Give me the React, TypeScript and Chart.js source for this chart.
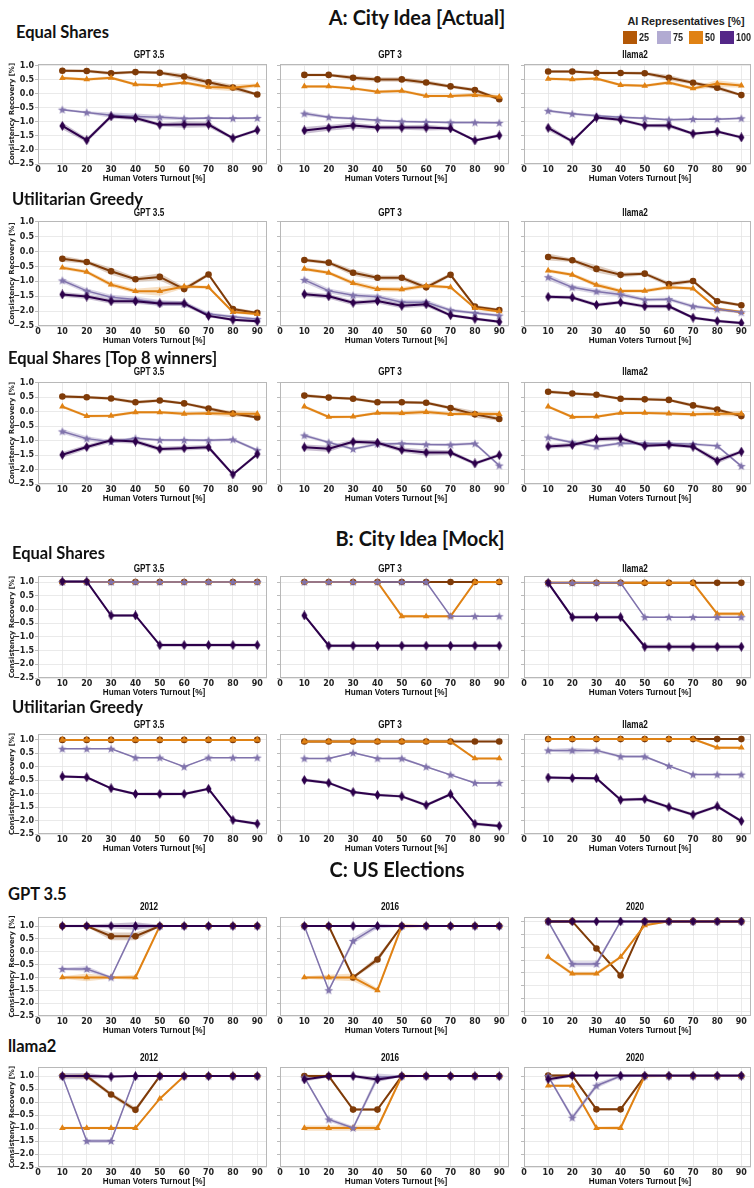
import React, { useEffect, useRef } from 'react';
import { Chart, registerables } from 'chart.js';

Chart.register(...registerables);

// ---------- shared axis data ----------
const TURNOUT = [10, 20, 30, 40, 50, 60, 70, 80, 90];
const X_TICKS = [0, 10, 20, 30, 40, 50, 60, 70, 80, 90];
const Y_TICKS = [-2.5, -2.0, -1.5, -1.0, -0.5, 0.0, 0.5, 1.0];
const SERIES = ['25', '50', '75', '100']; // AI representatives [%], drawing order
const LEGEND_ORDER = ['25', '75', '50', '100'];
const MODELS = ['GPT 3.5', 'GPT 3', 'llama2'];
const YEARS = ['2012', '2016', '2020'];
const X_TITLE = 'Human Voters Turnout [%]';
const Y_TITLE = 'Consistency Recovery [%]';
const LEGEND_TITLE = 'AI Representatives [%]';

// ---------- A: City Idea [Actual] — Equal Shares  (series: 25, 50, 75, 100) ----------
const actualEqualGpt35 = [
  [0.83, 0.82, 0.74, 0.78, 0.76, 0.62, 0.42, 0.23, -0.02],
  [0.57, 0.52, 0.58, 0.34, 0.31, 0.41, 0.25, 0.22, 0.31],
  [-0.56, -0.66, -0.76, -0.8, -0.83, -0.88, -0.86, -0.87, -0.86],
  [-1.14, -1.65, -0.8, -0.86, -1.1, -1.09, -1.09, -1.58, -1.29],
];
const actualEqualGpt35Sd = [
  [0.05, 0.05, 0.06, 0.05, 0.06, 0.1, 0.08, 0.1, 0.05],
  [0.05, 0.05, 0.05, 0.05, 0.05, 0.05, 0.08, 0.12, 0.06],
  [0.04, 0.04, 0.1, 0.1, 0.08, 0.06, 0.04, 0.04, 0.04],
  [0.12, 0.08, 0.08, 0.08, 0.06, 0.12, 0.1, 0.05, 0.06],
];
const actualEqualGpt3 = [
  [0.68, 0.68, 0.58, 0.52, 0.52, 0.41, 0.27, 0.14, -0.19],
  [0.27, 0.27, 0.2, 0.08, 0.11, -0.07, -0.07, -0.04, -0.1],
  [-0.7, -0.83, -0.88, -0.94, -0.98, -1.0, -1.02, -1.02, -1.03],
  [-1.3, -1.21, -1.13, -1.2, -1.2, -1.2, -1.23, -1.66, -1.48],
];
const actualEqualGpt3Sd = [
  [0.05, 0.05, 0.08, 0.08, 0.08, 0.08, 0.06, 0.06, 0.06],
  [0.05, 0.05, 0.05, 0.05, 0.06, 0.05, 0.05, 0.08, 0.06],
  [0.08, 0.05, 0.05, 0.04, 0.04, 0.04, 0.04, 0.04, 0.04],
  [0.12, 0.1, 0.1, 0.08, 0.08, 0.1, 0.06, 0.05, 0.06],
];
const actualEqualLlama2 = [
  [0.8, 0.8, 0.75, 0.75, 0.74, 0.58, 0.4, 0.22, -0.04],
  [0.54, 0.52, 0.55, 0.32, 0.29, 0.41, 0.2, 0.37, 0.3],
  [-0.6, -0.71, -0.78, -0.83, -0.87, -0.92, -0.9, -0.9, -0.87],
  [-1.21, -1.69, -0.84, -0.92, -1.13, -1.13, -1.42, -1.34, -1.55],
];
const actualEqualLlama2Sd = [
  [0.05, 0.05, 0.05, 0.05, 0.05, 0.1, 0.06, 0.08, 0.05],
  [0.05, 0.05, 0.05, 0.05, 0.05, 0.06, 0.06, 0.12, 0.08],
  [0.05, 0.05, 0.05, 0.04, 0.04, 0.04, 0.04, 0.04, 0.04],
  [0.1, 0.06, 0.05, 0.06, 0.06, 0.08, 0.05, 0.05, 0.06],
];

// ---------- A: Utilitarian Greedy ----------
const actualGreedyGpt35 = [
  [-0.24, -0.35, -0.66, -0.93, -0.85, -1.26, -0.77, -1.93, -2.06],
  [-0.54, -0.68, -1.11, -1.33, -1.33, -1.17, -1.2, -2.03, -2.1],
  [-0.97, -1.32, -1.53, -1.61, -1.73, -1.75, -2.1, -2.19, -2.27],
  [-1.44, -1.51, -1.67, -1.67, -1.74, -1.74, -2.16, -2.29, -2.34],
];
const actualGreedyGpt35Sd = [
  [0.1, 0.06, 0.12, 0.08, 0.12, 0.08, 0.06, 0.06, 0.05],
  [0.06, 0.06, 0.08, 0.08, 0.15, 0.06, 0.05, 0.05, 0.05],
  [0.08, 0.08, 0.08, 0.1, 0.1, 0.08, 0.06, 0.05, 0.05],
  [0.08, 0.08, 0.08, 0.08, 0.08, 0.08, 0.05, 0.05, 0.05],
];
const actualGreedyGpt3 = [
  [-0.28, -0.37, -0.71, -0.88, -0.88, -1.2, -0.78, -1.85, -1.96],
  [-0.58, -0.71, -1.06, -1.26, -1.27, -1.15, -1.2, -1.9, -2.01],
  [-0.95, -1.32, -1.47, -1.52, -1.7, -1.7, -1.97, -2.06, -2.15],
  [-1.43, -1.5, -1.72, -1.66, -1.82, -1.77, -2.14, -2.26, -2.36],
];
const actualGreedyGpt3Sd = [
  [0.06, 0.06, 0.1, 0.08, 0.08, 0.08, 0.06, 0.06, 0.05],
  [0.06, 0.06, 0.08, 0.08, 0.08, 0.06, 0.05, 0.05, 0.05],
  [0.1, 0.08, 0.08, 0.08, 0.08, 0.08, 0.06, 0.05, 0.05],
  [0.08, 0.08, 0.08, 0.08, 0.08, 0.08, 0.05, 0.05, 0.05],
];
const actualGreedyLlama2 = [
  [-0.18, -0.29, -0.58, -0.78, -0.74, -1.09, -0.99, -1.67, -1.8],
  [-0.64, -0.78, -1.12, -1.32, -1.32, -1.2, -1.24, -1.92, -2.03],
  [-0.86, -1.2, -1.34, -1.44, -1.62, -1.6, -1.84, -1.94, -2.04],
  [-1.52, -1.54, -1.79, -1.7, -1.84, -1.84, -2.22, -2.33, -2.4],
];
const actualGreedyLlama2Sd = [
  [0.12, 0.06, 0.12, 0.08, 0.06, 0.08, 0.06, 0.06, 0.05],
  [0.06, 0.06, 0.08, 0.06, 0.06, 0.06, 0.05, 0.05, 0.05],
  [0.1, 0.08, 0.08, 0.08, 0.06, 0.06, 0.06, 0.05, 0.05],
  [0.06, 0.06, 0.06, 0.06, 0.06, 0.06, 0.05, 0.05, 0.05],
];

// ---------- A: Equal Shares [Top 8 winners] ----------
const actualTop8Gpt35 = [
  [0.53, 0.5, 0.46, 0.33, 0.39, 0.29, 0.11, -0.06, -0.2],
  [0.18, -0.15, -0.14, -0.02, -0.02, -0.07, -0.05, -0.07, -0.07],
  [-0.68, -0.93, -1.04, -0.92, -0.98, -0.98, -0.99, -0.96, -1.33],
  [-1.49, -1.22, -0.99, -1.03, -1.29, -1.26, -1.23, -2.17, -1.47],
];
const actualTop8Gpt35Sd = [
  [0.06, 0.05, 0.05, 0.06, 0.05, 0.05, 0.06, 0.06, 0.05],
  [0.05, 0.05, 0.05, 0.05, 0.05, 0.06, 0.06, 0.12, 0.08],
  [0.08, 0.08, 0.06, 0.05, 0.05, 0.05, 0.05, 0.05, 0.05],
  [0.1, 0.08, 0.08, 0.08, 0.08, 0.08, 0.08, 0.05, 0.06],
];
const actualTop8Gpt3 = [
  [0.56, 0.49, 0.45, 0.33, 0.33, 0.31, 0.13, -0.09, -0.25],
  [0.18, -0.18, -0.17, -0.04, -0.05, -0.01, -0.08, -0.07, -0.08],
  [-0.82, -1.06, -1.29, -1.12, -1.1, -1.13, -1.14, -1.1, -1.86],
  [-1.23, -1.28, -1.04, -1.07, -1.32, -1.41, -1.41, -1.79, -1.5],
];
const actualTop8Gpt3Sd = [
  [0.06, 0.05, 0.05, 0.05, 0.05, 0.05, 0.06, 0.12, 0.06],
  [0.05, 0.05, 0.05, 0.05, 0.08, 0.08, 0.06, 0.08, 0.08],
  [0.06, 0.05, 0.05, 0.05, 0.05, 0.05, 0.05, 0.05, 0.05],
  [0.1, 0.1, 0.08, 0.08, 0.08, 0.1, 0.08, 0.06, 0.06],
];
const actualTop8Llama2 = [
  [0.69, 0.63, 0.59, 0.45, 0.43, 0.41, 0.22, 0.08, -0.15],
  [0.18, -0.18, -0.17, -0.04, -0.04, -0.06, -0.09, -0.07, -0.07],
  [-0.89, -1.06, -1.2, -1.09, -1.1, -1.1, -1.12, -1.18, -1.88],
  [-1.2, -1.15, -0.95, -0.92, -1.18, -1.14, -1.21, -1.7, -1.38],
];
const actualTop8Llama2Sd = [
  [0.06, 0.05, 0.05, 0.05, 0.05, 0.05, 0.06, 0.06, 0.05],
  [0.05, 0.05, 0.05, 0.05, 0.05, 0.05, 0.06, 0.08, 0.1],
  [0.05, 0.05, 0.05, 0.05, 0.05, 0.05, 0.05, 0.05, 0.05],
  [0.08, 0.08, 0.08, 0.08, 0.06, 0.06, 0.06, 0.1, 0.06],
];

// ---------- B: City Idea [Mock] — Equal Shares ----------
const mockEqualGpt35 = [
  [1, 1, 1, 1, 1, 1, 1, 1, 1],
  [1, 1, 1, 1, 1, 1, 1, 1, 1],
  [1, 1, 1, 1, 1, 1, 1, 1, 1],
  [1.02, 1.02, -0.22, -0.22, -1.3, -1.3, -1.3, -1.3, -1.3],
];
const mockEqualGpt35Sd = [
  [0.03, 0.03, 0.03, 0.03, 0.03, 0.03, 0.03, 0.03, 0.03],
  [0.03, 0.03, 0.03, 0.03, 0.03, 0.03, 0.03, 0.03, 0.03],
  [0.02, 0.02, 0.02, 0.02, 0.02, 0.02, 0.02, 0.02, 0.02],
  [0.05, 0.05, 0.05, 0.05, 0.06, 0.06, 0.06, 0.06, 0.06],
];
const mockEqualGpt3 = [
  [1, 1, 1, 1, 1, 1, 1, 1, 1],
  [1, 1, 1, 1, -0.25, -0.25, -0.25, 1, 1],
  [1, 1, 1, 1, 1, 1, -0.25, -0.25, -0.25],
  [-0.22, -1.32, -1.32, -1.32, -1.32, -1.32, -1.32, -1.32, -1.32],
];
const mockEqualGpt3Sd = [
  [0.03, 0.03, 0.03, 0.03, 0.03, 0.03, 0.03, 0.03, 0.03],
  [0.03, 0.03, 0.03, 0.03, 0.06, 0.05, 0.05, 0.04, 0.04],
  [0.02, 0.02, 0.02, 0.02, 0.02, 0.02, 0.02, 0.02, 0.02],
  [0.05, 0.06, 0.06, 0.06, 0.06, 0.06, 0.06, 0.06, 0.06],
];
const mockEqualLlama2 = [
  [0.97, 0.97, 0.97, 0.97, 0.97, 0.97, 0.97, 0.97, 0.97],
  [0.97, 0.97, 0.97, 0.97, 0.97, 0.97, 0.97, -0.16, -0.16],
  [0.97, 0.97, 0.97, 0.97, -0.28, -0.28, -0.28, -0.28, -0.28],
  [0.97, -0.28, -0.28, -0.28, -1.36, -1.36, -1.36, -1.36, -1.36],
];
const mockEqualLlama2Sd = [
  [0.03, 0.03, 0.03, 0.03, 0.03, 0.03, 0.03, 0.03, 0.03],
  [0.03, 0.03, 0.03, 0.03, 0.03, 0.03, 0.03, 0.07, 0.07],
  [0.02, 0.02, 0.02, 0.02, 0.02, 0.02, 0.02, 0.02, 0.02],
  [0.05, 0.06, 0.06, 0.06, 0.07, 0.07, 0.07, 0.07, 0.07],
];

// ---------- B: Utilitarian Greedy ----------
const mockGreedyGpt35 = [
  [1, 1, 1, 1, 1, 1, 1, 1, 1],
  [1, 1, 1, 1, 1, 1, 1, 1, 1],
  [0.67, 0.67, 0.67, 0.34, 0.34, 0.0, 0.34, 0.34, 0.34],
  [-0.36, -0.39, -0.8, -1.01, -1.01, -1.01, -0.82, -1.98, -2.12],
];
const mockGreedyGpt35Sd = [
  [0.03, 0.03, 0.03, 0.03, 0.03, 0.03, 0.03, 0.03, 0.03],
  [0.03, 0.03, 0.03, 0.03, 0.03, 0.03, 0.03, 0.03, 0.03],
  [0.02, 0.02, 0.02, 0.02, 0.02, 0.02, 0.02, 0.02, 0.02],
  [0.05, 0.05, 0.04, 0.05, 0.06, 0.05, 0.05, 0.05, 0.06],
];
const mockGreedyGpt3 = [
  [0.94, 0.94, 0.94, 0.94, 0.94, 0.94, 0.94, 0.94, 0.94],
  [0.94, 0.94, 0.94, 0.94, 0.94, 0.94, 0.94, 0.31, 0.31],
  [0.31, 0.31, 0.52, 0.31, 0.31, 0.0, -0.3, -0.6, -0.6],
  [-0.49, -0.6, -0.94, -1.05, -1.1, -1.43, -1.02, -2.12, -2.2],
];
const mockGreedyGpt3Sd = [
  [0.03, 0.03, 0.03, 0.03, 0.03, 0.03, 0.03, 0.03, 0.03],
  [0.03, 0.03, 0.03, 0.03, 0.03, 0.03, 0.06, 0.03, 0.03],
  [0.03, 0.03, 0.03, 0.03, 0.05, 0.03, 0.03, 0.03, 0.03],
  [0.06, 0.05, 0.05, 0.05, 0.05, 0.06, 0.05, 0.06, 0.06],
];
const mockGreedyLlama2 = [
  [1.03, 1.03, 1.03, 1.03, 1.03, 1.03, 1.03, 1.03, 1.03],
  [1.03, 1.03, 1.03, 1.03, 1.03, 1.03, 1.03, 0.71, 0.71],
  [0.61, 0.61, 0.61, 0.38, 0.38, 0.03, -0.29, -0.29, -0.29],
  [-0.4, -0.42, -0.43, -1.23, -1.2, -1.5, -1.78, -1.47, -2.02],
];
const mockGreedyLlama2Sd = [
  [0.03, 0.03, 0.03, 0.03, 0.03, 0.03, 0.03, 0.03, 0.03],
  [0.03, 0.03, 0.03, 0.03, 0.03, 0.03, 0.03, 0.05, 0.04],
  [0.05, 0.1, 0.05, 0.05, 0.05, 0.03, 0.03, 0.03, 0.03],
  [0.05, 0.05, 0.05, 0.06, 0.06, 0.06, 0.06, 0.06, 0.06],
];

// ---------- C: US Elections — GPT 3.5 ----------
const usGpt35Y2012 = [
  [1, 1, 0.6, 0.6, 1, 1, 1, 1, 1],
  [-1, -1, -1, -1, 1, 1, 1, 1, 1],
  [-0.67, -0.67, -1, 1, 1, 1, 1, 1, 1],
  [1, 1, 1, 1, 1, 1, 1, 1, 1],
];
const usGpt35Y2012Sd = [
  [0.03, 0.03, 0.15, 0.15, 0.03, 0.03, 0.03, 0.03, 0.03],
  [0.05, 0.15, 0.05, 0.1, 0.03, 0.03, 0.03, 0.03, 0.03],
  [0.05, 0.1, 0.05, 0.1, 0.03, 0.03, 0.03, 0.03, 0.03],
  [0.05, 0.05, 0.1, 0.15, 0.05, 0.03, 0.03, 0.03, 0.03],
];
const usGpt35Y2016 = [
  [1, 1, -1, -0.3, 1, 1, 1, 1, 1],
  [-1, -1, -1, -1.5, 1, 1, 1, 1, 1],
  [1, -1.5, 0.42, 1, 1, 1, 1, 1, 1],
  [1, 1, 1, 1, 1, 1, 1, 1, 1],
];
const usGpt35Y2016Sd = [
  [0.03, 0.03, 0.05, 0.12, 0.03, 0.03, 0.03, 0.03, 0.03],
  [0.05, 0.1, 0.15, 0.08, 0.1, 0.03, 0.03, 0.03, 0.03],
  [0.03, 0.05, 0.12, 0.1, 0.03, 0.03, 0.03, 0.03, 0.03],
  [0.03, 0.03, 0.03, 0.03, 0.03, 0.03, 0.03, 0.03, 0.03],
];
const usGpt35Y2020 = [
  [1, 1, -0.05, -1.1, 1, 1, 1, 1, 1],
  [-0.38, -1.03, -1.03, -0.38, 0.85, 1, 1, 1, 1],
  [1, -0.65, -0.65, 1, 1, 1, 1, 1, 1],
  [1, 1, 1, 1, 1, 1, 1, 1, 1],
];
const usGpt35Y2020Sd = [
  [0.05, 0.05, 0.05, 0.06, 0.03, 0.03, 0.03, 0.03, 0.03],
  [0.05, 0.08, 0.08, 0.05, 0.05, 0.03, 0.03, 0.03, 0.03],
  [0.05, 0.1, 0.1, 0.05, 0.03, 0.03, 0.03, 0.03, 0.03],
  [0.05, 0.05, 0.03, 0.03, 0.03, 0.03, 0.03, 0.03, 0.03],
];

// ---------- C: US Elections — llama2 ----------
const usLlama2Y2012 = [
  [1, 1, 0.29, -0.3, 1, 1, 1, 1, 1],
  [-1, -1, -1, -1, 0.13, 1, 1, 1, 1],
  [1, -1.5, -1.5, 1, 1, 1, 1, 1, 1],
  [1, 1, 0.98, 1, 1, 1, 1, 1, 1],
];
const usLlama2Y2012Sd = [
  [0.05, 0.08, 0.08, 0.1, 0.03, 0.03, 0.03, 0.03, 0.03],
  [0.05, 0.05, 0.05, 0.05, 0.03, 0.03, 0.03, 0.03, 0.03],
  [0.05, 0.08, 0.08, 0.05, 0.03, 0.03, 0.03, 0.03, 0.03],
  [0.12, 0.12, 0.03, 0.03, 0.03, 0.03, 0.03, 0.03, 0.03],
];
const usLlama2Y2016 = [
  [1, 1, -0.29, -0.29, 1, 1, 1, 1, 1],
  [-1, -1, -1, -1, 1, 1, 1, 1, 1],
  [0.95, -0.67, -1, 0.95, 1, 1, 1, 1, 1],
  [0.87, 1, 1, 0.87, 1, 1, 1, 1, 1],
];
const usLlama2Y2016Sd = [
  [0.05, 0.05, 0.05, 0.05, 0.03, 0.03, 0.03, 0.03, 0.03],
  [0.1, 0.1, 0.1, 0.1, 0.06, 0.03, 0.03, 0.03, 0.03],
  [0.05, 0.08, 0.08, 0.15, 0.03, 0.03, 0.03, 0.03, 0.03],
  [0.08, 0.05, 0.05, 0.1, 0.03, 0.03, 0.03, 0.03, 0.03],
];
const usLlama2Y2020 = [
  [1.02, 1.02, -0.28, -0.28, 1, 1, 1, 1, 1],
  [0.63, 0.63, -1, -1, 1, 1, 1, 1, 1],
  [1, -0.6, 0.63, 1, 1, 1, 1, 1, 1],
  [0.88, 1.02, 1.02, 1.02, 1.02, 1.02, 1.02, 1.02, 1.02],
];
const usLlama2Y2020Sd = [
  [0.05, 0.05, 0.05, 0.05, 0.03, 0.03, 0.03, 0.03, 0.03],
  [0.05, 0.05, 0.05, 0.08, 0.06, 0.03, 0.03, 0.03, 0.03],
  [0.05, 0.1, 0.1, 0.05, 0.03, 0.03, 0.03, 0.03, 0.03],
  [0.1, 0.05, 0.03, 0.03, 0.03, 0.03, 0.03, 0.03, 0.03],
];

// ---------- styles ----------
const LINE_COLORS = ['#7f3b08', '#e08214', '#8073ac', '#2d004b'];
const BAND_COLORS = ['rgba(127,59,8,0.25)', 'rgba(224,130,20,0.25)', 'rgba(128,115,172,0.3)', 'rgba(45,0,75,0.25)'];
const LEGEND_COLORS: Record<string, string> = { '25': '#b35806', '75': '#b2abd2', '50': '#e08214', '100': '#542788' };
const LINE_WIDTHS = [2, 2, 1.5, 2];
const POINT_RADII = [3.3, 3.8, 4, 4];
const GRID = '#e4e4e4';
const FRAME = '#b8b8b8';
const DEJAVU = '"DejaVu Sans", sans-serif';
const ARIAL = '"Liberation Sans", Arial, sans-serif';
const HEAD = 'Lato, "Open Sans", sans-serif';
const X_MAX = 94;

const COLS = [
  { left: 38, right: 269, titleX: 149 },
  { left: 280, right: 511, titleX: 390 },
  { left: 524, right: 755, titleX: 635 },
];

type PanelSpec = { title: string; values: number[][]; sd: number[][]; yMin?: number; yMax?: number };
type RowSpec = { top: number; bottom: number; yMin: number; yMax: number; titleY: number; panels: PanelSpec[] };

const ROWS: RowSpec[] = [
  { top: 64, bottom: 164, yMin: -2.5, yMax: 1.07, titleY: 55, panels: [
    { title: MODELS[0], values: actualEqualGpt35, sd: actualEqualGpt35Sd },
    { title: MODELS[1], values: actualEqualGpt3, sd: actualEqualGpt3Sd },
    { title: MODELS[2], values: actualEqualLlama2, sd: actualEqualLlama2Sd },
  ] },
  { top: 221, bottom: 326, yMin: -2.5, yMax: 1.03, titleY: 213, panels: [
    { title: MODELS[0], values: actualGreedyGpt35, sd: actualGreedyGpt35Sd },
    { title: MODELS[1], values: actualGreedyGpt3, sd: actualGreedyGpt3Sd },
    { title: MODELS[2], values: actualGreedyLlama2, sd: actualGreedyLlama2Sd },
  ] },
  { top: 382, bottom: 484, yMin: -2.5, yMax: 1.03, titleY: 372, panels: [
    { title: MODELS[0], values: actualTop8Gpt35, sd: actualTop8Gpt35Sd },
    { title: MODELS[1], values: actualTop8Gpt3, sd: actualTop8Gpt3Sd },
    { title: MODELS[2], values: actualTop8Llama2, sd: actualTop8Llama2Sd },
  ] },
  { top: 576, bottom: 678, yMin: -2.5, yMax: 1.22, titleY: 569, panels: [
    { title: MODELS[0], values: mockEqualGpt35, sd: mockEqualGpt35Sd },
    { title: MODELS[1], values: mockEqualGpt3, sd: mockEqualGpt3Sd },
    { title: MODELS[2], values: mockEqualLlama2, sd: mockEqualLlama2Sd },
  ] },
  { top: 734, bottom: 834, yMin: -2.5, yMax: 1.22, titleY: 725, panels: [
    { title: MODELS[0], values: mockGreedyGpt35, sd: mockGreedyGpt35Sd },
    { title: MODELS[1], values: mockGreedyGpt3, sd: mockGreedyGpt3Sd },
    { title: MODELS[2], values: mockGreedyLlama2, sd: mockGreedyLlama2Sd },
  ] },
  { top: 917, bottom: 1016, yMin: -2.5, yMax: 1.35, titleY: 907, panels: [
    { title: YEARS[0], values: usGpt35Y2012, sd: usGpt35Y2012Sd },
    { title: YEARS[1], values: usGpt35Y2016, sd: usGpt35Y2016Sd },
    { title: YEARS[2], values: usGpt35Y2020, sd: usGpt35Y2020Sd, yMin: -2.67, yMax: 1.17 },
  ] },
  { top: 1067, bottom: 1167, yMin: -2.5, yMax: 1.35, titleY: 1058, panels: [
    { title: YEARS[0], values: usLlama2Y2012, sd: usLlama2Y2012Sd },
    { title: YEARS[1], values: usLlama2Y2016, sd: usLlama2Y2016Sd },
    { title: YEARS[2], values: usLlama2Y2020, sd: usLlama2Y2020Sd },
  ] },
];

const SECTION_TITLES = [
  { text: 'A: City Idea [Actual]', cx: 417, cy: 17 },
  { text: 'B: City Idea [Mock]', cx: 420, cy: 538 },
  { text: 'C: US Elections', cx: 397, cy: 869 },
];
const SUB_TITLES = [
  { text: 'Equal Shares', x: 16, cy: 32 },
  { text: 'Utilitarian Greedy', x: 12, cy: 199 },
  { text: 'Equal Shares [Top 8 winners]', x: 8, cy: 358 },
  { text: 'Equal Shares', x: 12, cy: 553 },
  { text: 'Utilitarian Greedy', x: 12, cy: 707 },
  { text: 'GPT 3.5', x: 8, cy: 894 },
  { text: 'llama2', x: 8, cy: 1046 },
];

const LEGEND_BOX_X = [623, 657, 689, 720];

// ---------- markers ----------
let markerCache: any[] | null = null;
function getMarkers() {
  if (markerCache) return markerCache;
  const star = document.createElement('canvas');
  star.width = 10; star.height = 10;
  const s = star.getContext('2d')!;
  s.fillStyle = LINE_COLORS[2];
  s.beginPath();
  for (let i = 0; i < 10; i++) {
    const r = i % 2 === 0 ? 4.6 : 1.9;
    const a = -Math.PI / 2 + (i * Math.PI) / 5;
    const px = 5 + r * Math.cos(a), py = 5.4 + r * Math.sin(a);
    if (i === 0) s.moveTo(px, py); else s.lineTo(px, py);
  }
  s.closePath(); s.fill();
  const dia = document.createElement('canvas');
  dia.width = 7; dia.height = 10;
  const d = dia.getContext('2d')!;
  d.fillStyle = LINE_COLORS[3];
  d.beginPath();
  d.moveTo(3.5, 0); d.lineTo(6.5, 5); d.lineTo(3.5, 10); d.lineTo(0.5, 5); d.closePath(); d.fill();
  markerCache = ['circle', 'triangle', star, dia];
  return markerCache;
}

const framePlugin = {
  id: 'frame',
  beforeDatasetsDraw(chart: any) {
    const { ctx, chartArea: a } = chart;
    ctx.save();
    ctx.strokeStyle = FRAME;
    ctx.lineWidth = 1;
    ctx.strokeRect(a.left + 0.5, a.top + 0.5, a.right - a.left - 1, a.bottom - a.top - 1);
    ctx.restore();
  },
};

function fmtY(v: number) {
  const s = Math.abs(v).toFixed(1);
  return v < -1e-9 ? '\u2212' + s : s;
}

function Panel({ spec, col, row }: { spec: PanelSpec; col: number; row: RowSpec }) {
  const ref = useRef<HTMLCanvasElement | null>(null);
  const padL = col === 0 ? 38 : 5;
  const padR = col === 2 ? 0 : 2;
  const padT = 8;
  const padB = 12;
  const c = COLS[col];
  const width = c.right - c.left + padL + padR;
  const height = row.bottom - row.top + padT + padB;
  const yMin = spec.yMin ?? row.yMin;
  const yMax = spec.yMax ?? row.yMax;

  useEffect(() => {
    const canvas = ref.current;
    if (!canvas) return;
    const markers = getMarkers();
    const datasets: any[] = [];
    SERIES.forEach((name, k) => {
      const vals = spec.values[k];
      const sd = spec.sd[k];
      datasets.push({
        label: name + ' upper',
        data: TURNOUT.map((x, i) => ({ x, y: vals[i] + sd[i] })),
        borderColor: 'transparent', backgroundColor: 'transparent', borderWidth: 1,
        pointRadius: 0, fill: false, order: 20 + k,
      });
      datasets.push({
        label: name + ' lower',
        data: TURNOUT.map((x, i) => ({ x, y: vals[i] - sd[i] })),
        borderColor: 'transparent', backgroundColor: BAND_COLORS[k], borderWidth: 1,
        pointRadius: 0, fill: '-1', order: 20 + k,
      });
    });
    SERIES.forEach((name, k) => {
      datasets.push({
        label: name,
        data: TURNOUT.map((x, i) => ({ x, y: spec.values[k][i] })),
        borderColor: LINE_COLORS[k], backgroundColor: LINE_COLORS[k], borderWidth: LINE_WIDTHS[k],
        pointStyle: markers[k], pointRadius: POINT_RADII[k],
        pointBackgroundColor: LINE_COLORS[k], pointBorderColor: LINE_COLORS[k], pointBorderWidth: 0,
        fill: false, order: 10 - k,
      });
    });
    const tickFont = { family: DEJAVU, size: 8, weight: 'bold' as const };
    const chart = new Chart(canvas, {
      type: 'line',
      data: { datasets },
      plugins: [framePlugin],
      options: {
        animation: false,
        responsive: false,
        events: [],
        layout: { padding: { left: 0, right: padR, top: padT, bottom: 0 } },
        plugins: { legend: { display: false }, tooltip: { enabled: false }, title: { display: false } },
        scales: {
          x: {
            type: 'linear', min: 0, max: X_MAX,
            afterBuildTicks: (s: any) => { s.ticks = X_TICKS.map((v) => ({ value: v })); },
            afterFit: (s: any) => { s.height = padB; },
            ticks: { font: tickFont, color: '#222', padding: 1, maxRotation: 0, autoSkip: false, callback: (v: any) => String(v) },
            grid: { color: GRID, lineWidth: 0.8, drawTicks: false },
            border: { display: false },
            title: { display: false },
          },
          y: {
            type: 'linear', min: yMin, max: yMax,
            afterBuildTicks: (s: any) => { s.ticks = Y_TICKS.filter((v) => v >= yMin - 1e-9 && v <= yMax + 1e-9).map((v) => ({ value: v })); },
            afterFit: (s: any) => { s.width = padL; },
            ticks: { display: col === 0, font: tickFont, color: '#222', padding: 1, callback: (v: any) => fmtY(Number(v)) },
            grid: { color: GRID, lineWidth: 0.8, drawTicks: true, tickLength: 3, tickColor: '#aaaaaa' },
            border: { display: false },
            title: { display: col === 0, text: Y_TITLE, color: '#222', font: { family: DEJAVU, size: 7, weight: 'bold' }, padding: { top: 8, bottom: 0 } },
          },
        },
      } as any,
    });
    return () => chart.destroy();
  }, []);

  return (
    <canvas
      ref={ref}
      width={width}
      height={height}
      style={{ position: 'absolute', left: c.left - padL, top: row.top - padT, width, height }}
    />
  );
}

const condensed = (size: number, sx: number) => ({
  fontFamily: ARIAL, fontWeight: 700, fontSize: size, color: '#111', whiteSpace: 'nowrap' as const,
  transform: `scaleX(${sx})`, transformOrigin: 'center center',
});

export default function App() {
  return (
    <div style={{ position: 'absolute', left: 0, top: 0, width: 754, height: 1188, overflow: 'hidden', background: '#fff', color: '#111' }}>
      {ROWS.map((row, r) =>
        row.panels.map((p, cIdx) => <Panel key={r + '-' + cIdx} spec={p} col={cIdx} row={row} />)
      )}
      {ROWS.map((row, r) =>
        row.panels.map((p, cIdx) => (
          <div key={'t' + r + '-' + cIdx} style={{ position: 'absolute', left: COLS[cIdx].titleX - 60, width: 120, top: row.titleY - 7, height: 14, lineHeight: '14px', textAlign: 'center', ...condensed(10, 0.82) }}>
            {p.title}
          </div>
        ))
      )}
      {ROWS.map((row, r) =>
        row.panels.map((p, cIdx) => (
          <div key={'x' + r + '-' + cIdx} style={{ position: 'absolute', left: (COLS[cIdx].left + COLS[cIdx].right) / 2 - 80, width: 160, top: row.bottom + 13.5 - 6, height: 12, lineHeight: '12px', textAlign: 'center', ...condensed(9.5, 0.86) }}>
            {X_TITLE}
          </div>
        ))
      )}
      {SECTION_TITLES.map((t, i) => (
        <div key={'s' + i} style={{ position: 'absolute', left: t.cx - 200, width: 400, top: t.cy - 14, height: 28, lineHeight: '28px', textAlign: 'center', fontFamily: HEAD, fontWeight: 700, fontSize: 20, color: '#111', whiteSpace: 'nowrap' }}>
          {t.text}
        </div>
      ))}
      {SUB_TITLES.map((t, i) => (
        <div key={'u' + i} style={{ position: 'absolute', left: t.x, top: t.cy - 12, height: 24, lineHeight: '24px', fontFamily: HEAD, fontWeight: 700, fontSize: 16.5, color: '#111', whiteSpace: 'nowrap' }}>
          {t.text}
        </div>
      ))}
      <div style={{ position: 'absolute', left: 586, width: 200, top: 14, height: 14, lineHeight: '14px', textAlign: 'center', fontFamily: ARIAL, fontWeight: 700, fontSize: 10.8, color: '#222', whiteSpace: 'nowrap' }}>
        {LEGEND_TITLE}
      </div>
      {LEGEND_ORDER.map((name, i) => (
        <React.Fragment key={'l' + name}>
          <div style={{ position: 'absolute', left: LEGEND_BOX_X[i], top: 31, width: 14, height: 13, background: LEGEND_COLORS[name] }} />
          <div style={{ position: 'absolute', left: LEGEND_BOX_X[i] + 16, top: 31, height: 13, lineHeight: '13px', fontFamily: ARIAL, fontWeight: 700, fontSize: 10.5, color: '#222', transform: 'scaleX(0.86)', transformOrigin: 'left center' }}>
            {name}
          </div>
        </React.Fragment>
      ))}
    </div>
  );
}
